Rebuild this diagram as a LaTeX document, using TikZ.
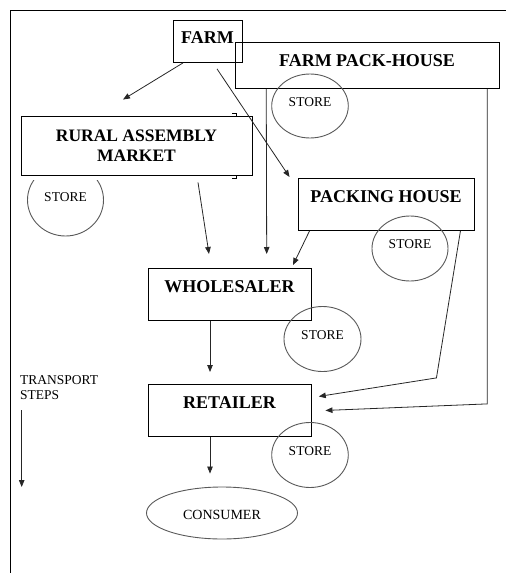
\documentclass[tikz,border=0pt]{standalone}
\usepackage{fontspec}
\setmainfont{Liberation Serif}
\usetikzlibrary{arrows.meta,shapes.geometric,calc}
\begin{document}
\begin{tikzpicture}[x=1pt,y=-1pt,
  box/.style={draw=black, line width=0.9pt, inner xsep=0pt, inner ysep=0pt, font=\fontsize{18}{20}\selectfont\bfseries},
  store/.style={ellipse, draw=black!65, line width=0.9pt, inner sep=0pt, font=\fontsize{13.5}{15}\selectfont, text height=10pt, text depth=10pt},
  link/.style={draw=black!85, line width=0.8pt, -{Triangle[length=7pt,width=5.5pt]}},
  frameline/.style={draw=black, line width=0.9pt},
  tick/.style={draw=black, line width=0.8pt}]

\useasboundingbox (0,0) rectangle (506,573);
\draw[frameline] (506,10) -- (10,10) -- (10,573);

% boxes
\node[box, anchor=north, minimum width=69pt, text height=23pt, text depth=19pt] (farm) at (207.5,20) {FARM};
\node[box, anchor=north, minimum width=264pt, text height=23.7pt, text depth=22.3pt] (fph) at (367,42) {FARM PACK-HOUSE};
\node[box, align=center, minimum width=231pt, minimum height=59pt, font=\fontsize{17.5}{19.7}\selectfont\bfseries] (rural) at (136.5,145.5) {RURAL ASSEMBLY\\MARKET};
\node[box, anchor=north, minimum width=176pt, text height=23.7pt, text depth=28.3pt] (packing) at (386,178) {PACKING HOUSE};
\node[box, anchor=north, minimum width=163pt, text height=24.3pt, text depth=27.7pt] (wholesaler) at (229.5,268) {WHOLESALER};
\node[box, anchor=north, minimum width=163pt, text height=24.3pt, text depth=27.7pt] (retailer) at (229.5,384) {RETAILER};

% bracket ticks at the rural box
\draw[tick] ([xshift=-20pt,yshift=2.5pt]rural.north east) -- ([xshift=-16.5pt,yshift=2.5pt]rural.north east) -- ([xshift=-16.5pt]rural.north east);
\draw[tick] ([xshift=-16.5pt]rural.south east) -- ([xshift=-16.5pt,yshift=-3pt]rural.south east) -- ([xshift=-20pt,yshift=-3pt]rural.south east);

% stores
\node[store, minimum width=76.6pt, minimum height=64pt] (s1) at (310,106) {STORE};
\begin{scope}
  \clip (0,180) rectangle (506,573);
  \node[store, minimum width=76pt, minimum height=72pt, text height=11.7pt, text depth=8.3pt] (s2) at (65.5,200) {STORE};
\end{scope}
\node[store, minimum width=76pt, minimum height=65pt] (s3) at (410,248.5) {STORE};
\node[store, minimum width=77pt, minimum height=65pt] (s4) at (322.5,339) {STORE};
\node[store, minimum width=76.6pt, minimum height=65pt] (s5) at (310,455) {STORE};
\node[store, minimum width=151pt, minimum height=52pt, text height=16pt, text depth=4pt, font=\fontsize{14}{16}\selectfont] (consumer) at (222,513) {CONSUMER\hspace{16pt}};

% transport steps
\node[anchor=north west, align=left, inner sep=0pt, font=\fontsize{13.5}{15.5}\selectfont] (transport) at (20,375) {TRANSPORT\\STEPS};
\coordinate (t1) at (21.7,410);
\coordinate (t2) at (21.7,487);
\draw[link] (t1) -- (t2);

% connectors
\draw[link] ([xshift=-24.5pt]farm.south) -- ([xshift=-13.5pt,yshift=16pt]rural.north);
\draw[link] ([xshift=9.5pt,yshift=-6pt]farm.south) -- ([xshift=-8pt,yshift=1pt]packing.north west);
\draw[link] ([xshift=31.7pt]fph.south west) -- ([xshift=37.2pt,yshift=14pt]wholesaler.north);
\draw[link] ([xshift=-12.3pt]fph.south east) -- ++(0,315) -- ([xshift=14pt]retailer.east);
\draw[link] ([xshift=61.5pt,yshift=-7pt]rural.south) -- ([xshift=-20.5pt,yshift=14pt]wholesaler.north);
\draw[link] ([xshift=12pt]packing.south west) -- ([xshift=63.5pt,yshift=3pt]wholesaler.north);
\draw[link] ([xshift=-14pt]packing.south east) -- ++(-24,147) -- ([xshift=7.3pt,yshift=14pt]retailer.east);
\draw[link] ([xshift=-19.5pt]wholesaler.south) -- ([xshift=-19.5pt,yshift=12pt]retailer.north);
\draw[link] ([xshift=-19.5pt]retailer.south) -- ([xshift=-12pt,yshift=13pt]consumer.north);
\end{tikzpicture}
\end{document}
